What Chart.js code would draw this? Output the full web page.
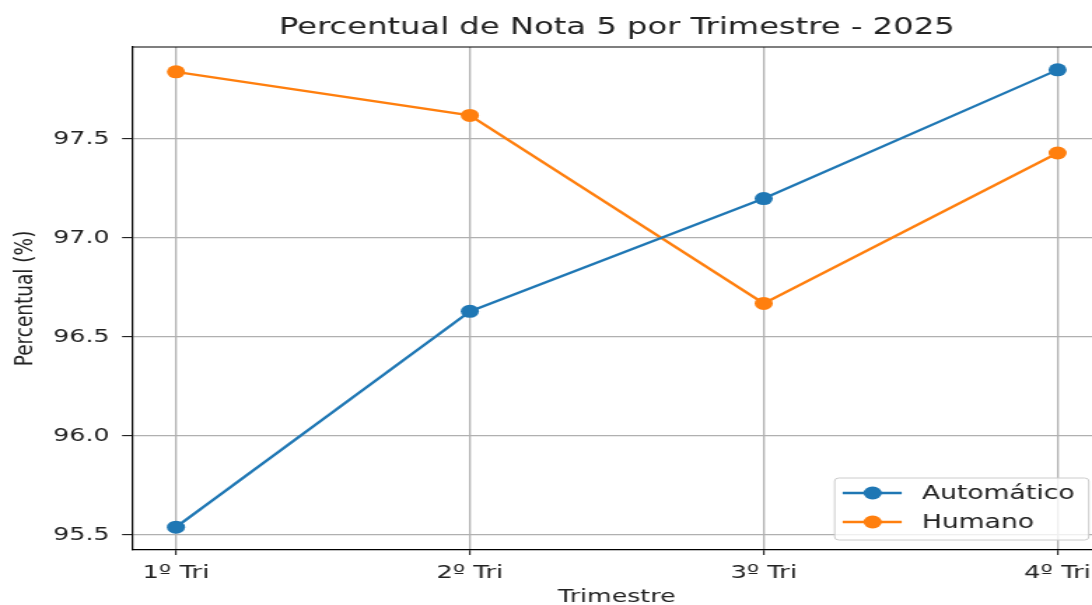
<!DOCTYPE html>
<html><head><meta charset="utf-8">
<script src="https://cdn.jsdelivr.net/npm/chart.js@4.4.1/dist/chart.umd.min.js"></script>
<style>
html,body{margin:0;padding:0;overflow:hidden;background:#fff;width:1092px;height:605px}
#wrap{position:absolute;left:0;top:0;width:794px;height:605px;transform:scaleX(1.4);transform-origin:0 0}
canvas{display:block}
</style></head><body>
<div id="wrap"><canvas id="c" width="794" height="605"></canvas></div>
<script>
const categories = ['1º Tri', '2º Tri', '3º Tri', '4º Tri'];
const automatico = [95.54, 96.63, 97.20, 97.85];
const humano = [97.84, 97.62, 96.67, 97.43];
const yTicks = [95.5, 96.0, 96.5, 97.0, 97.5];
const seriesNames = ['Automático', 'Humano'];
const seriesColors = ['#1f77b4', '#ff7f0e'];
const titleText = 'Percentual de Nota 5 por Trimestre - 2025';
const xTitle = 'Trimestre';
const yTitle = 'Percentual (%)';

const FONT = "'DejaVu Sans', sans-serif";
const allVals = automatico.concat(humano);
const dMin = Math.min(...allVals), dMax = Math.max(...allVals);
const yPad = (dMax - dMin) * 0.05;
const xPad = (categories.length - 1) * 0.05;

function toPts(arr) { return arr.map((v, i) => ({x: i, y: v})); }

const decor = {
  id: 'decor',
  afterDraw(chart) {
    const ctx = chart.ctx, ca = chart.chartArea;
    ctx.save();
    // top and right spines
    ctx.strokeStyle = '#000';
    ctx.lineWidth = 1.2;
    ctx.beginPath();
    ctx.moveTo(ca.left, ca.top); ctx.lineTo(ca.right, ca.top); ctx.lineTo(ca.right, ca.bottom);
    ctx.stroke();
    // title
    ctx.fillStyle = '#222';
    ctx.textAlign = 'center';
    ctx.textBaseline = 'alphabetic';
    ctx.font = '23px ' + FONT;
    const cx = (ca.left + ca.right) / 2;
    ctx.fillText(titleText, cx, 34);
    // x title
    ctx.font = '18px ' + FONT;
    ctx.fillText(xTitle, cx, 602);
    // y title
    ctx.save();
    ctx.translate(18, (ca.top + ca.bottom) / 2);
    ctx.rotate(-Math.PI / 2);
    ctx.textBaseline = 'middle';
    ctx.font = '18.5px ' + FONT;
    ctx.fillText(yTitle, 0, 0);
    ctx.restore();
    // legend
    const w = 181.5, h = 62;
    const right = ca.right - 9.2, bottom = ca.bottom - 10;
    const left = right - w, top = bottom - h;
    ctx.beginPath();
    if (ctx.roundRect) ctx.roundRect(left, top, w, h, 3); else ctx.rect(left, top, w, h);
    ctx.fillStyle = 'rgba(255,255,255,0.8)';
    ctx.fill();
    ctx.strokeStyle = '#cccccc';
    ctx.lineWidth = 1;
    ctx.stroke();
    const rows = [top + 15, top + 44];
    seriesNames.forEach((name, i) => {
      const y = rows[i];
      ctx.strokeStyle = seriesColors[i];
      ctx.lineWidth = 2.3;
      ctx.beginPath();
      ctx.moveTo(left + 5.7, y); ctx.lineTo(left + 47.9, y);
      ctx.stroke();
      ctx.fillStyle = seriesColors[i];
      ctx.beginPath();
      ctx.arc(left + 27.1, y, 6.5, 0, Math.PI * 2);
      ctx.fill();
      ctx.fillStyle = '#222';
      ctx.textAlign = 'left';
      ctx.textBaseline = 'middle';
      ctx.font = '19px ' + FONT;
      ctx.fillText(name, left + 62.3, y + 1);
    });
    ctx.restore();
  }
};

new Chart(document.getElementById('c'), {
  type: 'line',
  data: {
    datasets: [
      {label: seriesNames[0], data: toPts(automatico), borderColor: seriesColors[0], backgroundColor: seriesColors[0],
       borderWidth: 2.3, pointRadius: 6.5, pointBorderWidth: 0, pointHoverRadius: 6.5, tension: 0},
      {label: seriesNames[1], data: toPts(humano), borderColor: seriesColors[1], backgroundColor: seriesColors[1],
       borderWidth: 2.3, pointRadius: 6.5, pointBorderWidth: 0, pointHoverRadius: 6.5, tension: 0}
    ]
  },
  options: {
    responsive: false,
    animation: false,
    devicePixelRatio: 1,
    layout: {padding: {left: 0, right: 7.1, top: 47, bottom: 0}},
    plugins: {legend: {display: false}, title: {display: false}, tooltip: {enabled: false}},
    scales: {
      x: {
        type: 'linear',
        min: -xPad, max: categories.length - 1 + xPad,
        afterBuildTicks: s => { s.ticks = categories.map((c, i) => ({value: i})); },
        afterFit: s => { s.height = 55; s.paddingLeft = 0; s.paddingRight = 0; },
        ticks: {
          autoSkip: false, maxRotation: 0, padding: 7, color: '#222',
          font: {family: FONT, size: 18.5},
          callback: v => categories[v]
        },
        grid: {color: '#b0b0b0', lineWidth: 1.3, tickColor: '#000', tickLength: 5, tickWidth: 1},
        border: {color: '#000', width: 1.2}
      },
      y: {
        type: 'linear',
        min: dMin - yPad, max: dMax + yPad,
        afterBuildTicks: s => { s.ticks = yTicks.map(v => ({value: v})); },
        afterFit: s => { s.width = 94.2; s.paddingTop = 0; s.paddingBottom = 0; },
        ticks: {
          autoSkip: false, padding: 9, color: '#222',
          font: {family: FONT, size: 18},
          callback: v => Number(v).toFixed(1)
        },
        grid: {color: '#b0b0b0', lineWidth: 1.3, tickColor: '#000', tickLength: 7, tickWidth: 1},
        border: {color: '#000', width: 1.2}
      }
    }
  },
  plugins: [decor]
});
</script>
</body></html>
